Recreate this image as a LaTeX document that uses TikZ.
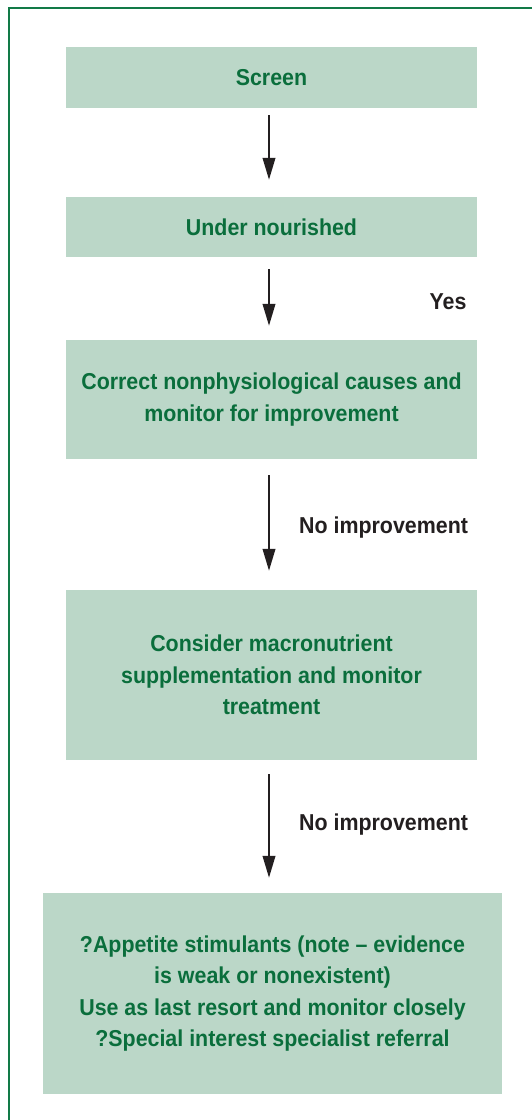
\documentclass[tikz,border=0pt]{standalone}
\usepackage{fontspec}
\newfontfamily\boxfont[FakeStretch=0.93]{Liberation Sans}
\usetikzlibrary{arrows.meta}
\definecolor{boxfill}{HTML}{BBD7C8}
\definecolor{boxtext}{HTML}{0A6E3C}
\definecolor{framegreen}{HTML}{127A47}
\definecolor{labeltext}{HTML}{231F20}
\tikzset{
  flowbox/.style={rectangle, fill=boxfill, draw=none, text=boxtext, align=center,
    inner sep=0pt, font=\boxfont\bfseries\fontsize{23}{31.5}\selectfont},
  flowarrow/.style={draw=labeltext, line width=2.3pt, -{Triangle[length=22pt,width=12.5pt]}},
  flowlabel/.style={text=labeltext, inner sep=0pt, font=\boxfont\bfseries\fontsize{23}{28}\selectfont}
}
\begin{document}
\begin{tikzpicture}[x=1pt,y=-1pt]
\useasboundingbox (0,0) rectangle (532,1120);
\fill[white] (0,0) rectangle (532,1120);
% frame
\coordinate (fbl) at (9,1125);
\coordinate (ftl) at (9,8);
\coordinate (ftr) at (540,8);
\draw[framegreen, line width=2.6pt] (fbl) -- (ftl) -- (ftr);
% boxes
\node[flowbox, minimum width=411pt, minimum height=61pt] (screen) at (271.5,77.5) {Screen};
\node[flowbox, minimum width=411pt, minimum height=60pt] (under) at (271.5,227) {Under nourished};
\node[flowbox, minimum width=411pt, minimum height=119pt] (correct) at (271.5,399.5) {Correct nonphysiological causes and\\monitor for improvement};
\node[flowbox, minimum width=411pt, minimum height=170pt] (consider) at (271.5,675) {Consider macronutrient\\supplementation and monitor\\treatment};
\node[flowbox, minimum width=459pt, minimum height=201pt] (appetite) at (272.5,993.5) {?Appetite stimulants (note – evidence\\is weak or nonexistent)\\Use as last resort and monitor closely\\?Special interest specialist referral};
% arrows
\draw[flowarrow, shorten <=7pt, shorten >=17pt] ([xshift=-2.5pt]screen.south) -- ([xshift=-2.5pt]under.north);
\draw[flowarrow, shorten <=12pt, shorten >=14pt] ([xshift=-2.5pt]under.south) -- ([xshift=-2.5pt]correct.north);
\draw[flowarrow, shorten <=16pt, shorten >=19pt] ([xshift=-2.5pt]correct.south) -- ([xshift=-2.5pt]consider.north);
\draw[flowarrow, shorten <=14pt, shorten >=15pt] ([xshift=-2.5pt]consider.south) -- ([xshift=-3.5pt]appetite.north);
% labels
\node[flowlabel] (yes) at (448,302) {Yes};
\node[flowlabel, anchor=west] (noimp1) at (299,528) {No improvement};
\node[flowlabel, anchor=west] (noimp2) at (299,825) {No improvement};
\end{tikzpicture}
\end{document}
